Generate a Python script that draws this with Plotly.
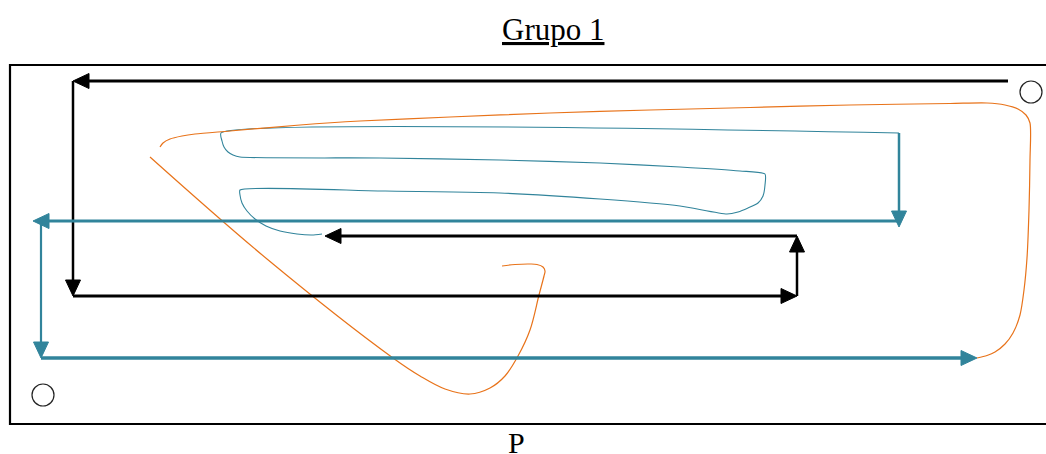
import plotly.graph_objects as go
import math

# ---------------- data (diagram coordinates, pixel space) ----------------
title_text = "Grupo 1"
axis_label = "P"

# black route: segment starts/ends (each segment ends in an arrowhead)
black_x0 = [1008, 73, 73, 797, 797]
black_y0 = [81, 81, 296, 296, 236]
black_x1 = [73, 73, 797, 797, 325]
black_y1 = [81, 296, 296, 236, 236]
black_w = [3, 2.5, 3, 2.5, 3]

# teal route: segment starts/ends (each segment ends in an arrowhead)
teal_x0 = [899, 899, 41, 41]
teal_y0 = [133, 221, 221, 358]
teal_x1 = [899, 33, 41, 977]
teal_y1 = [227, 221, 358, 358]
teal_w = [2.5, 3, 2.2, 3.5]

# thin teal sketch curve
thin_x = [899, 221, 222, 224, 228, 233, 240, 380, 500, 600, 680, 740, 765, 765, 763, 758, 748, 738, 727,
          680, 600, 500, 380, 240, 240, 242, 247, 255, 266, 280, 297, 312, 322]
thin_y = [133, 133, 141, 147, 152, 155, 157, 158, 160, 163, 167, 171, 174, 185, 196, 203, 208, 212, 214,
          206, 199, 193, 191, 190, 195, 203, 211, 219, 226, 231, 234, 235, 234]

# orange curve 1 (big loop, top and right side)
or1_x = [160, 163, 170, 182, 195, 230, 300, 360, 450, 550, 650, 750, 850, 950, 987, 1005, 1018, 1026, 1030,
         1030, 1029, 1027, 1024, 1020, 1013, 1005, 995, 987, 977]
or1_y = [147, 143, 139, 136, 134, 131, 125, 121, 117, 113, 110, 107.5, 105, 103.5, 103, 105, 109, 115, 123,
         160, 210, 258, 290, 315, 333, 344, 352, 355.5, 358]

# orange curve 2 (diagonal + hook)
or2_x = [150, 267, 393, 420, 445, 470, 490, 505, 518, 530, 539, 544, 545, 543, 537, 530, 515, 502]
or2_y = [157, 259, 358, 376, 389, 394, 388, 376, 356, 330, 295, 276, 271, 267, 264.5, 264, 264.5, 266]

# start/end markers
circle_x = [1031, 43]
circle_y = [92, 395]

# ---------------- styling ----------------
BLACK = "#000000"
TEAL = "#31849B"
ORANGE = "#E8731A"
ARROW_LEN = 16
ARROW_HALF = 7.5

fig = go.Figure()


def arrow_segment(x0, y0, x1, y1, color, width):
    dx, dy = x1 - x0, y1 - y0
    d = math.hypot(dx, dy)
    ux, uy = dx / d, dy / d
    bx, by = x1 - ux * ARROW_LEN, y1 - uy * ARROW_LEN
    fig.add_trace(go.Scatter(x=[x0, bx + ux * 2], y=[y0, by + uy * 2], mode="lines",
                             line=dict(color=color, width=width), hoverinfo="skip", showlegend=False))
    px, py = -uy, ux
    fig.add_trace(go.Scatter(
        x=[x1, bx + px * ARROW_HALF, bx - px * ARROW_HALF, x1],
        y=[y1, by + py * ARROW_HALF, by - py * ARROW_HALF, y1],
        mode="lines", fill="toself", fillcolor=color, line=dict(color=color, width=1),
        hoverinfo="skip", showlegend=False))


fig.add_trace(go.Scatter(x=thin_x, y=thin_y, mode="lines",
                         line=dict(color=TEAL, width=1.1, shape="spline", smoothing=0.6),
                         hoverinfo="skip", showlegend=False))
fig.add_trace(go.Scatter(x=or1_x, y=or1_y, mode="lines",
                         line=dict(color=ORANGE, width=1.2, shape="spline", smoothing=0.8),
                         hoverinfo="skip", showlegend=False))
fig.add_trace(go.Scatter(x=or2_x, y=or2_y, mode="lines",
                         line=dict(color=ORANGE, width=1.2, shape="spline", smoothing=1.0),
                         hoverinfo="skip", showlegend=False))

for i in range(len(black_x0)):
    arrow_segment(black_x0[i], black_y0[i], black_x1[i], black_y1[i], BLACK, black_w[i])

for i in range(len(teal_x0)):
    arrow_segment(teal_x0[i], teal_y0[i], teal_x1[i], teal_y1[i], TEAL, teal_w[i])

fig.add_trace(go.Scatter(x=circle_x, y=circle_y, mode="markers",
                         marker=dict(symbol="circle-open", size=22, color="#222222", line=dict(width=1.2)),
                         hoverinfo="skip", showlegend=False))

# frame
fig.add_shape(type="rect", x0=10, y0=65, x1=1060, y1=424, line=dict(color=BLACK, width=2.2))

fig.add_annotation(x=553, y=29, text="<u>" + title_text + "</u>", showarrow=False,
                   font=dict(family="Liberation Serif", size=31, color=BLACK), xanchor="center", yanchor="middle")
fig.add_annotation(x=516, y=442, text=axis_label, showarrow=False,
                   font=dict(family="Liberation Serif", size=30, color=BLACK), xanchor="center", yanchor="middle")

fig.update_layout(
    width=1046, height=454,
    margin=dict(l=0, r=0, t=0, b=0),
    paper_bgcolor="white", plot_bgcolor="white",
    xaxis=dict(range=[0, 1046], visible=False, fixedrange=True),
    yaxis=dict(range=[454, 0], visible=False, fixedrange=True),
    showlegend=False,
)

fig.write_html("out.html", config={"displayModeBar": False, "staticPlot": True},
               post_script="document.body.style.margin='0';document.body.style.overflow='hidden';")
